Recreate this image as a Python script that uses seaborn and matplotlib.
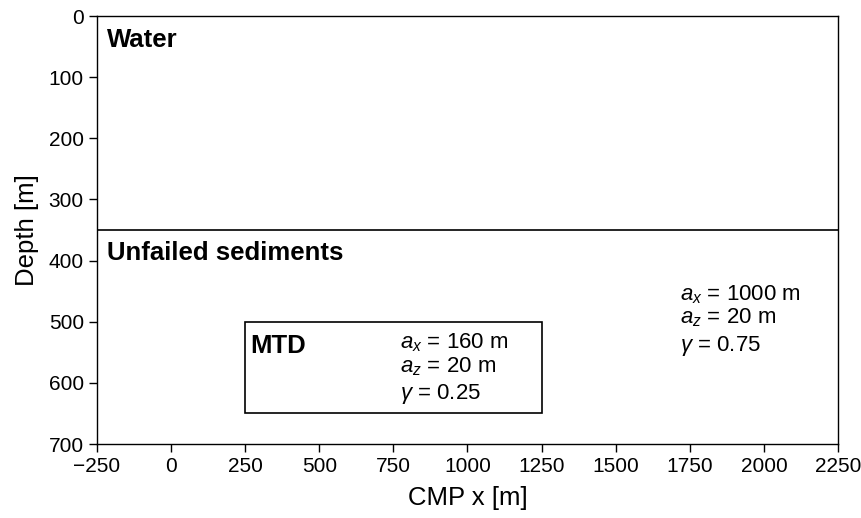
import matplotlib
matplotlib.use("Agg")
import matplotlib.pyplot as plt
import seaborn as sns
import pandas as pd
from matplotlib.patches import Rectangle

# Data
x_limits = [-250, 2250]
z_limits = [0, 700]
seafloor_x = [-250, 2250]
seafloor_z = [350, 350]
mtd_x = [250, 1250]
mtd_z = [500, 650]
x_ticks = [-250, 0, 250, 500, 750, 1000, 1250, 1500, 1750, 2000, 2250]
z_ticks = [0, 100, 200, 300, 400, 500, 600, 700]
layer_labels = ["Water", "Unfailed sediments", "MTD"]
layer_label_x = [-217, -217, 267]
layer_label_z = [40, 388, 539]
mtd_params = [r"$a_x$ = 160 m", r"$a_z$ = 20 m", r"$\gamma$ = 0.25"]
mtd_param_z = [535, 573, 618]
mtd_param_x = 772
bg_params = [r"$a_x$ = 1000 m", r"$a_z$ = 20 m", r"$\gamma$ = 0.75"]
bg_param_z = [456, 494, 540]
bg_param_x = 1717

sns.set_style("ticks")
plt.rcParams['font.family'] = ['Liberation Sans', 'DejaVu Sans']
plt.rcParams['mathtext.fontset'] = 'custom'
plt.rcParams['mathtext.rm'] = 'Liberation Sans'
plt.rcParams['mathtext.it'] = 'Liberation Sans:italic'
plt.rcParams['mathtext.bf'] = 'Liberation Sans:bold'
plt.rcParams['text.color'] = 'black'
plt.rcParams['axes.labelcolor'] = 'black'

fig = plt.figure(figsize=(8.62, 5.18), dpi=100)
ax = fig.add_axes([97/862, 1 - 444/518, (838-97)/862, (444-16)/518])

df = pd.DataFrame({"x": seafloor_x, "z": seafloor_z})
sns.lineplot(data=df, x="x", y="z", ax=ax, color="black", lw=1.2)

ax.add_patch(Rectangle((mtd_x[0], mtd_z[0]), mtd_x[1]-mtd_x[0], mtd_z[1]-mtd_z[0],
                       fill=False, edgecolor="black", lw=1.2))

ax.set_xlim(x_limits)
ax.set_ylim(z_limits[1], z_limits[0])
ax.set_xticks(x_ticks)
ax.set_yticks(z_ticks)
ax.tick_params(labelsize=15, length=6, width=1, color="black", labelcolor="black")
for s in ax.spines.values():
    s.set_color("black")
    s.set_linewidth(1.0)
ax.set_xlabel("CMP x [m]", fontsize=18.5, color="black", labelpad=7)
ax.set_ylabel("Depth [m]", fontsize=18.5, color="black", labelpad=7)

for lab, lx, lz in zip(layer_labels, layer_label_x, layer_label_z):
    ax.text(lx, lz, lab, fontsize=18.5, fontweight="bold", va="center", ha="left")
for t, z in zip(mtd_params, mtd_param_z):
    ax.text(mtd_param_x, z, t, fontsize=16, va="center", ha="left")
for t, z in zip(bg_params, bg_param_z):
    ax.text(bg_param_x, z, t, fontsize=16, va="center", ha="left")

fig.savefig("out.png", dpi=100)
